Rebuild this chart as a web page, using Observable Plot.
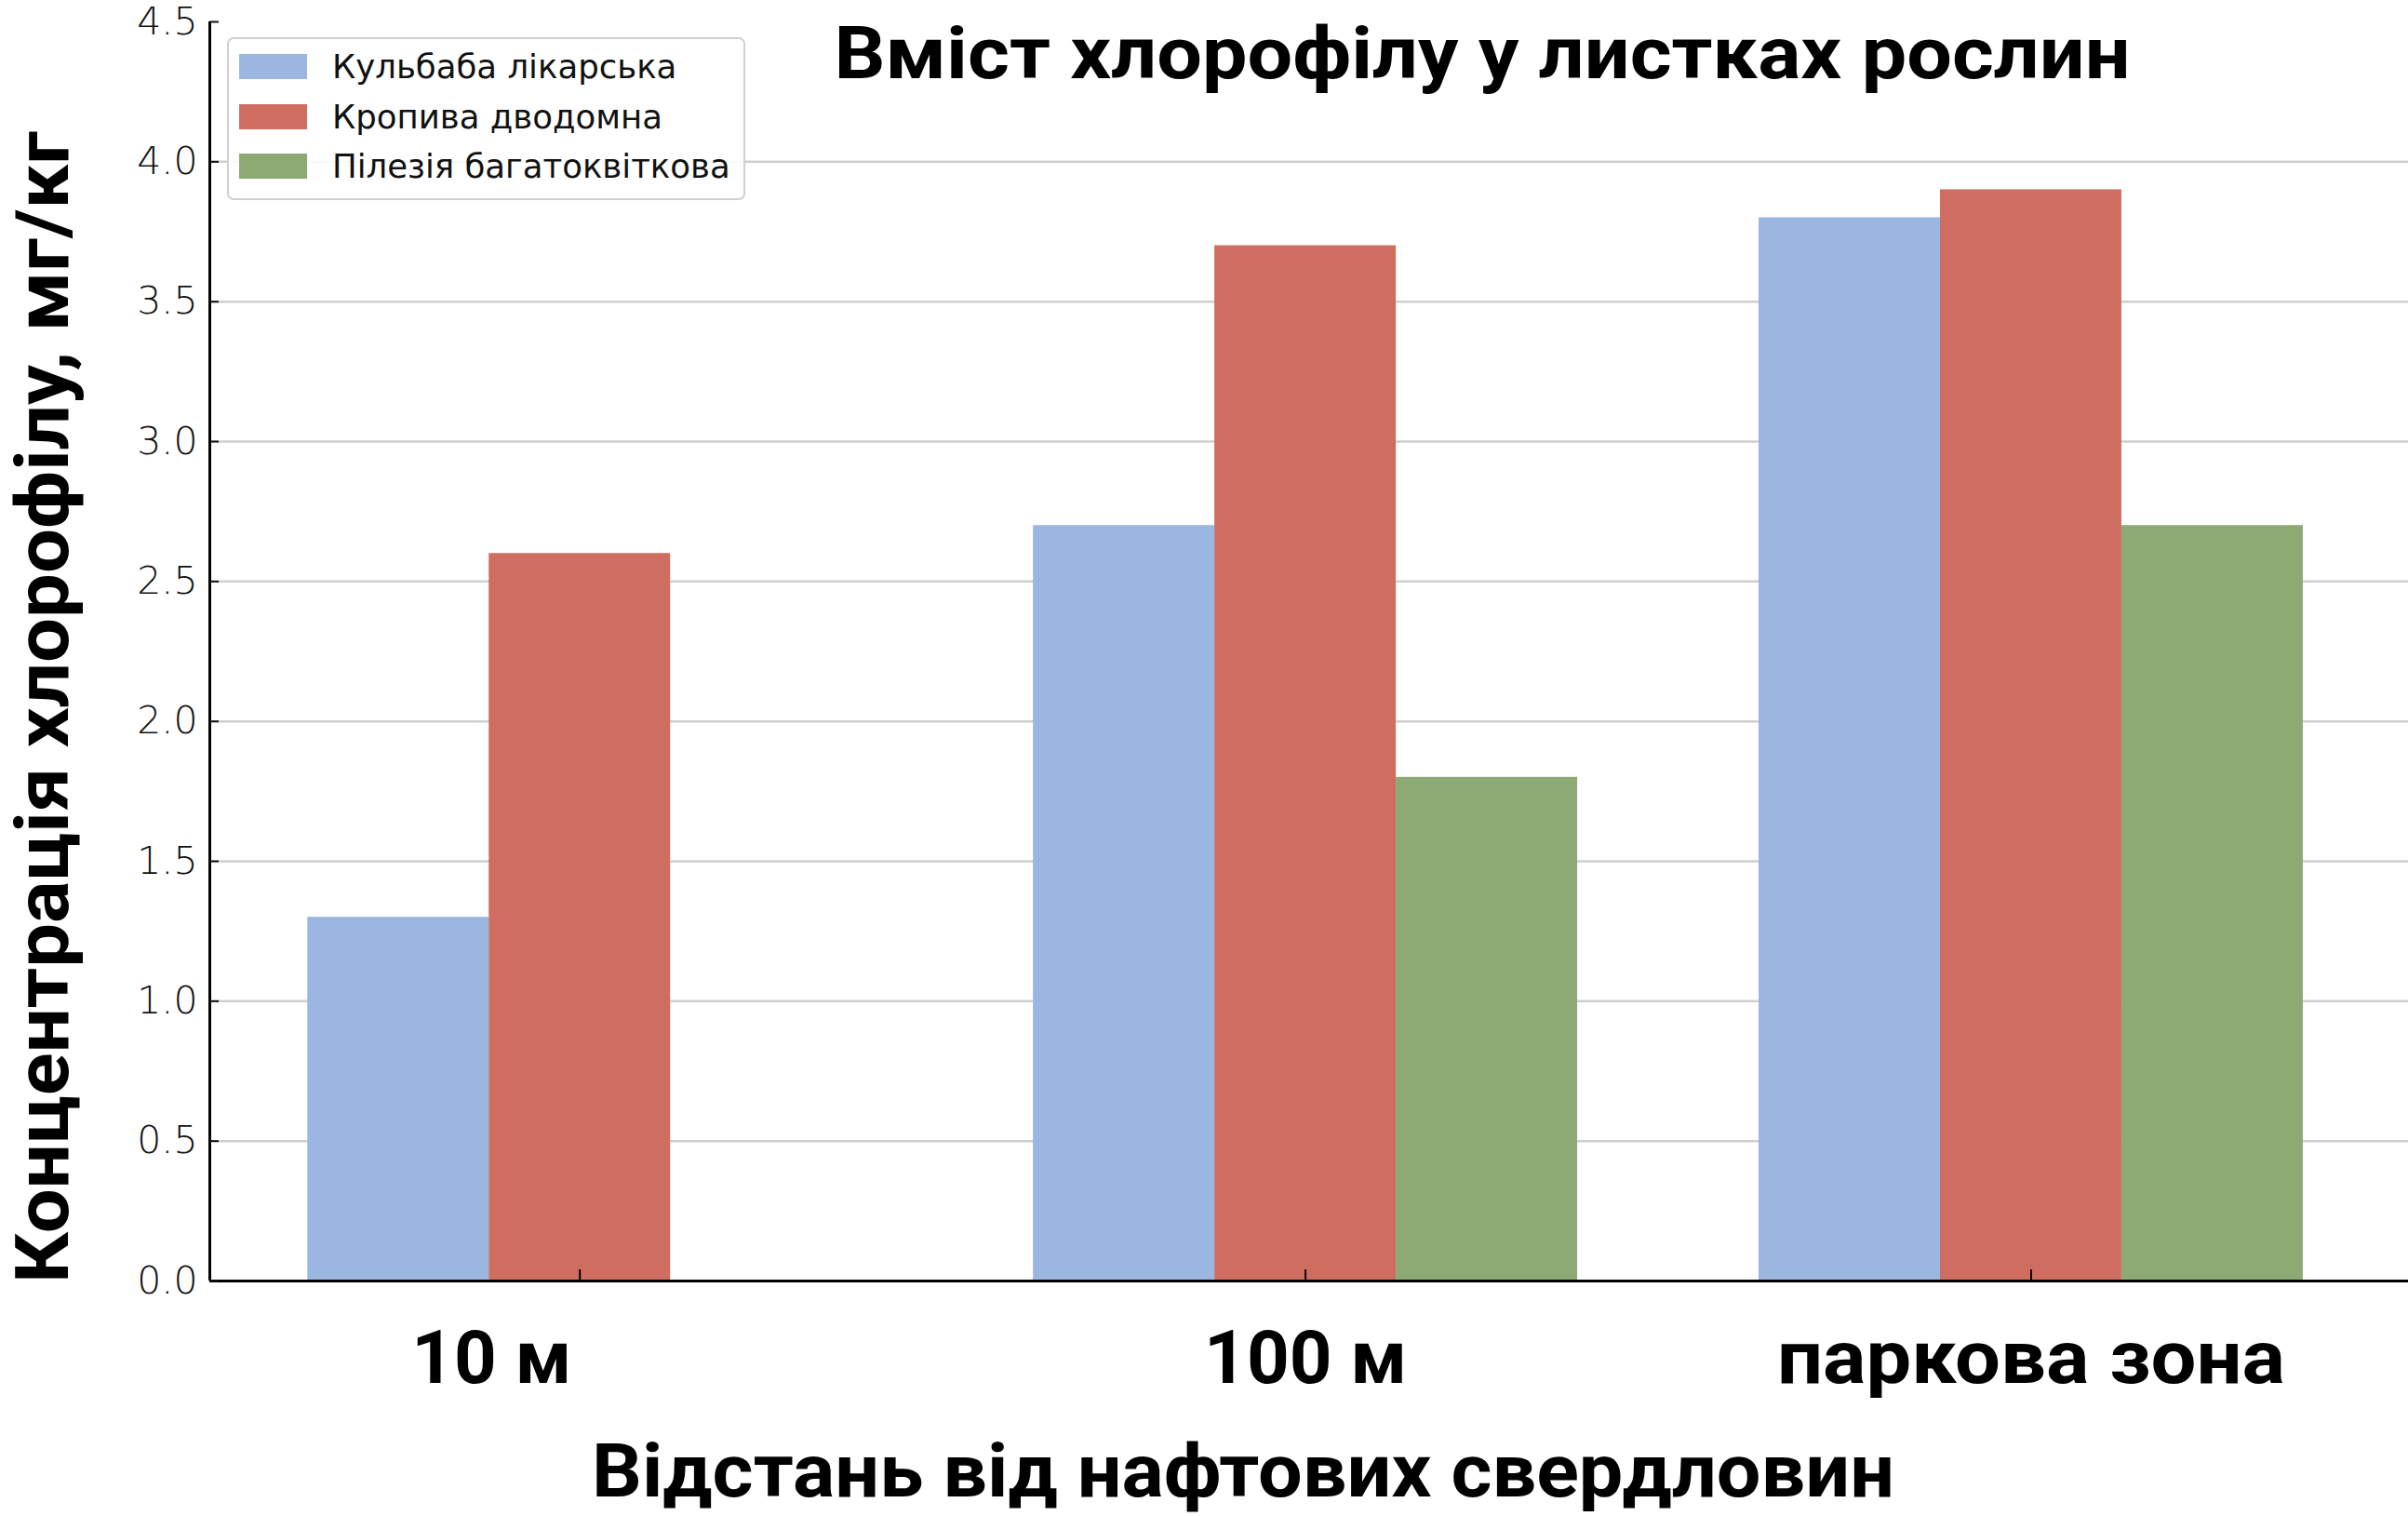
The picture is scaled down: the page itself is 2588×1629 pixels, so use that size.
<!DOCTYPE html>
<html>
<head>
<meta charset="utf-8">
<script src="https://cdn.jsdelivr.net/npm/d3@7"></script>
<script src="https://cdn.jsdelivr.net/npm/@observablehq/plot@0.6"></script>
<style>
  body { margin: 0; background: #fff; }
  #wrap { position: relative; width: 2588px; height: 1629px; }
  #legend {
    position: absolute; left: 244px; top: 40px; width: 553px; height: 168px;
    border: 2px solid #d0d0d0; border-radius: 7px; background: rgba(255,255,255,0.88);
    font-family: "DejaVu Sans", sans-serif; font-size: 35.5px; color: #111;
    padding-top: 3px; box-sizing: content-box;
  }
  #legend .row { display: flex; align-items: center; height: 53.5px; }
  #legend .sw { width: 73px; height: 27px; margin-left: 11px; margin-right: 27px; }
</style>
</head>
<body>
<div id="wrap"></div>
<script>
// ---- data ----
const categories = ["10 м", "100 м", "паркова зона"];
const series = ["Кульбаба лікарська", "Кропива дводомна", "Пілезія багатоквіткова"];
const colors = ["#9BB7E1", "#CF6E60", "#8DAA74"];
const kulbaba = [1.3, 2.7, 3.8];
const kropyva = [2.6, 3.7, 3.9];
const pilezia = [null, 1.8, 2.7];
const yTicks = [0, 0.5, 1.0, 1.5, 2.0, 2.5, 3.0, 3.5, 4.0, 4.5];
const gridTicks = [0.5, 1.0, 1.5, 2.0, 2.5, 3.0, 3.5, 4.0];
const xTicks = [0, 1, 2];
const title = "Вміст хлорофілу у листках рослин";
const xLabel = "Відстань від нафтових свердловин";
const yLabel = "Концентрація хлорофілу, мг/кг";

const barWidth = 0.25;
const xDomain = [-0.51, 2.52];
const yDomain = [0, 4.5];

const seriesValues = [kulbaba, kropyva, pilezia];
const data = [];
seriesValues.forEach((vals, j) => vals.forEach((v, i) => {
  if (v != null) data.push({i, j, category: categories[i], series: series[j], value: v});
}));

const bigFont = "Roboto, 'Open Sans', sans-serif";

const chart = Plot.plot({
  width: 2588,
  height: 1629,
  marginLeft: 225,
  marginRight: 0,
  marginTop: 23,
  marginBottom: 253,
  x: {type: "linear", domain: xDomain},
  y: {domain: yDomain},
  color: {domain: series, range: colors},
  style: {background: "white", fontFamily: "DejaVu Sans, sans-serif", overflow: "visible"},
  marks: [
    Plot.ruleY(gridTicks, {stroke: "#cfcfcf", strokeWidth: 2.5}),
    Plot.rectY(data, {
      x1: d => d.i + (d.j - 1.5) * barWidth,
      x2: d => d.i + (d.j - 0.5) * barWidth,
      y: "value",
      fill: "series"
    }),
    Plot.ruleY([yDomain[0]], {stroke: "black", strokeWidth: 3}),
    Plot.ruleX([xDomain[0]], {stroke: "black", strokeWidth: 3}),
    Plot.axisY({
      ticks: yTicks, tickFormat: d3.format(".1f"), tickSize: -10, tickPadding: 23,
      fontSize: 41, fontFamily: "DejaVu Sans, sans-serif", fontWeight: 200, strokeWidth: 2, label: null, color: "#111"
    }),
    Plot.axisX({
      ticks: xTicks, tickFormat: i => categories[i], tickSize: -12, tickPadding: 65,
      fontSize: 80, fontWeight: 700, fontFamily: bigFont, strokeWidth: 2, label: null, color: "#000"
    }),
    Plot.text([title], {text: d => d, frameAnchor: "top", dx: 186, dy: 5, lineAnchor: "top",
      fontSize: 78, fontWeight: 700, fontFamily: bigFont, fill: "#000"}),
    Plot.text([xLabel], {text: d => d, frameAnchor: "bottom", dx: -71, dy: 175, lineAnchor: "top",
      fontSize: 80, fontWeight: 700, fontFamily: bigFont, fill: "#000"}),
    Plot.text([yLabel], {text: d => d, frameAnchor: "left", textAnchor: "middle", rotate: -90, dx: -178, dy: 60, lineAnchor: "middle",
      fontSize: 80, fontWeight: 700, fontFamily: bigFont, fill: "#000"})
  ]
});

// match the reference's text widths
const svg = d3.select(chart);
function fitWidth(sel, w) { sel.attr("textLength", w).attr("lengthAdjust", "spacingAndGlyphs"); }
const tickLabels = svg.selectAll('g[aria-label="x-axis tick label"] text');
const tickWidths = [172, 218, 546];
tickLabels.each(function(d, k) { fitWidth(d3.select(this), tickWidths[k]); });
// shift first category label as in the reference
svg.select('g[aria-label="x-axis tick label"] text').attr("dx", -95);
svg.selectAll('g[aria-label="text"] text').each(function() {
  const t = d3.select(this).text();
  if (t === title) fitWidth(d3.select(this), 1393);
  if (t === xLabel) fitWidth(d3.select(this), 1400);
  if (t === yLabel) fitWidth(d3.select(this), 1238);
});

const wrap = document.getElementById("wrap");
wrap.appendChild(chart);

// legend built from the series arrays
const legend = d3.select(wrap).append("div").attr("id", "legend");
const rows = legend.selectAll(".row").data(series).join("div").attr("class", "row");
rows.append("div").attr("class", "sw").style("background", (d, j) => colors[j]);
rows.append("span").text(d => d);
</script>
</body>
</html>
